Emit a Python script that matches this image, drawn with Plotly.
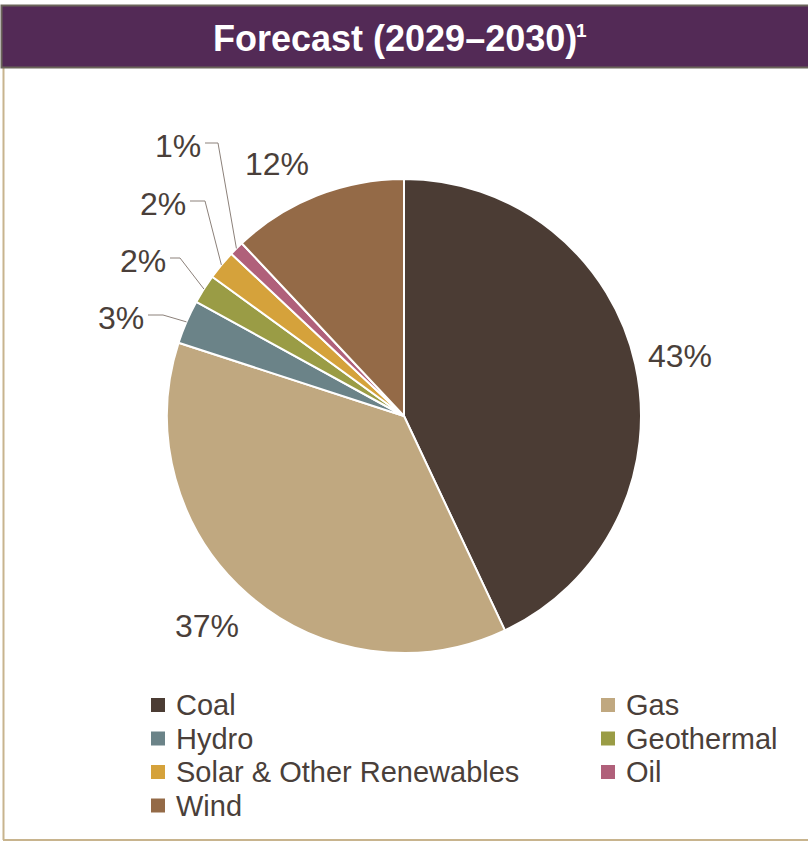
import math
import plotly.graph_objects as go

# Figure size in pixels
W, H = 808, 842

# Generation mix forecast, 2029-2030 (share of total, %)
sources = ["Coal", "Gas", "Hydro", "Geothermal", "Solar & Other Renewables", "Oil", "Wind"]
shares = [43, 37, 3, 2, 2, 1, 12]
colors = ["#4B3C34", "#C0A880", "#6B8388", "#9A9C45", "#D5A23B", "#B0607A", "#946A47"]

TEXT = "#4A3F3A"
FONT = "Arial, Liberation Sans, sans-serif"

# Pie geometry (pixels)
CX, CY, R = 404, 416, 237

# Hand-placed label layout: big slices get a free-floating label,
# small slices get a label with an elbow leader line.
free_labels = {"Coal": (680, 356), "Gas": (207, 626), "Wind": (277, 164)}
leader_labels = {  # name: (elbow x, elbow y, line end x)
    "Hydro": (163, 315, 148),
    "Geothermal": (180, 258, 170),
    "Solar & Other Renewables": (205, 201, 190),
    "Oil": (218, 143, 205),
}


def px(x):
    return x / W


def py(y):
    return 1 - y / H


fig = go.Figure(
    go.Pie(
        labels=sources,
        values=shares,
        marker=dict(colors=colors, line=dict(color="white", width=2)),
        sort=False,
        direction="clockwise",
        rotation=0,
        textinfo="none",
        hoverinfo="label+percent",
        showlegend=False,
        domain=dict(x=[px(CX - R), px(CX + R)], y=[py(CY + R), py(CY - R)]),
    )
)

annotations = []
shapes = []

# Percentage labels and leader lines, positioned from each slice's mid-angle
total = sum(shares)
cum = 0
for name, v in zip(sources, shares):
    mid = (cum + v / 2) / total * 2 * math.pi
    cum += v
    label = f"{v}%"
    if name in free_labels:
        lx, ly = free_labels[name]
        annotations.append(dict(x=px(lx), y=py(ly), text=label, showarrow=False,
                                xanchor="center", yanchor="middle",
                                font=dict(family=FONT, size=32, color=TEXT)))
    else:
        ex, ey, end_x = leader_labels[name]
        sx = CX + R * math.sin(mid)
        sy = CY - R * math.cos(mid)
        path = (f"M {px(sx)},{py(sy)} L {px(ex)},{py(ey)} L {px(end_x)},{py(ey)}")
        shapes.append(dict(type="path", xref="paper", yref="paper", path=path,
                           line=dict(color="#8C817A", width=1)))
        annotations.append(dict(x=px(end_x - 2), y=py(ey + 3), text=label, showarrow=False,
                                xanchor="right", yanchor="middle",
                                font=dict(family=FONT, size=32, color=TEXT)))

# Legend: two columns, row-major in series order
LEG_X = [151, 601]
LEG_Y0, LEG_DY, SW = 705, 33.5, 14
for i, (name, c) in enumerate(zip(sources, colors)):
    x0 = LEG_X[i % 2]
    yc = LEG_Y0 + (i // 2) * LEG_DY
    shapes.append(dict(type="rect", xref="paper", yref="paper",
                       x0=px(x0), x1=px(x0 + SW), y0=py(yc + SW / 2), y1=py(yc - SW / 2),
                       fillcolor=c, line=dict(width=0)))
    annotations.append(dict(x=px(x0 + 23), y=py(yc), text=name, showarrow=False,
                            xanchor="left", yanchor="middle",
                            font=dict(family=FONT, size=29, color=TEXT)))

# Panel frame and title bar
shapes.append(dict(type="line", xref="paper", yref="paper",
                   x0=px(3.5), x1=px(3.5), y0=py(67), y1=py(840),
                   line=dict(color="#C8B48E", width=2)))
shapes.append(dict(type="line", xref="paper", yref="paper",
                   x0=px(3), x1=px(808), y0=py(840), y1=py(840),
                   line=dict(color="#C8B48E", width=2)))
shapes.append(dict(type="rect", xref="paper", yref="paper",
                   x0=px(1.5), x1=px(810), y0=py(67.5), y1=py(5.5),
                   fillcolor="#532A56", line=dict(color="#6B645A", width=2)))
annotations.append(dict(x=px(579), y=py(38), text="<b>Forecast (2029–2030)</b>",
                        showarrow=False, xanchor="right", yanchor="middle",
                        font=dict(family=FONT, size=36, color="white")))
annotations.append(dict(x=px(574), y=py(30), text="<b>1</b>",
                        showarrow=False, xanchor="left", yanchor="middle",
                        font=dict(family=FONT, size=19, color="white")))

fig.update_layout(
    width=W, height=H,
    margin=dict(l=0, r=0, t=0, b=0),
    paper_bgcolor="white",
    plot_bgcolor="white",
    shapes=shapes,
    annotations=annotations,
)

fig.write_html("out.html")
